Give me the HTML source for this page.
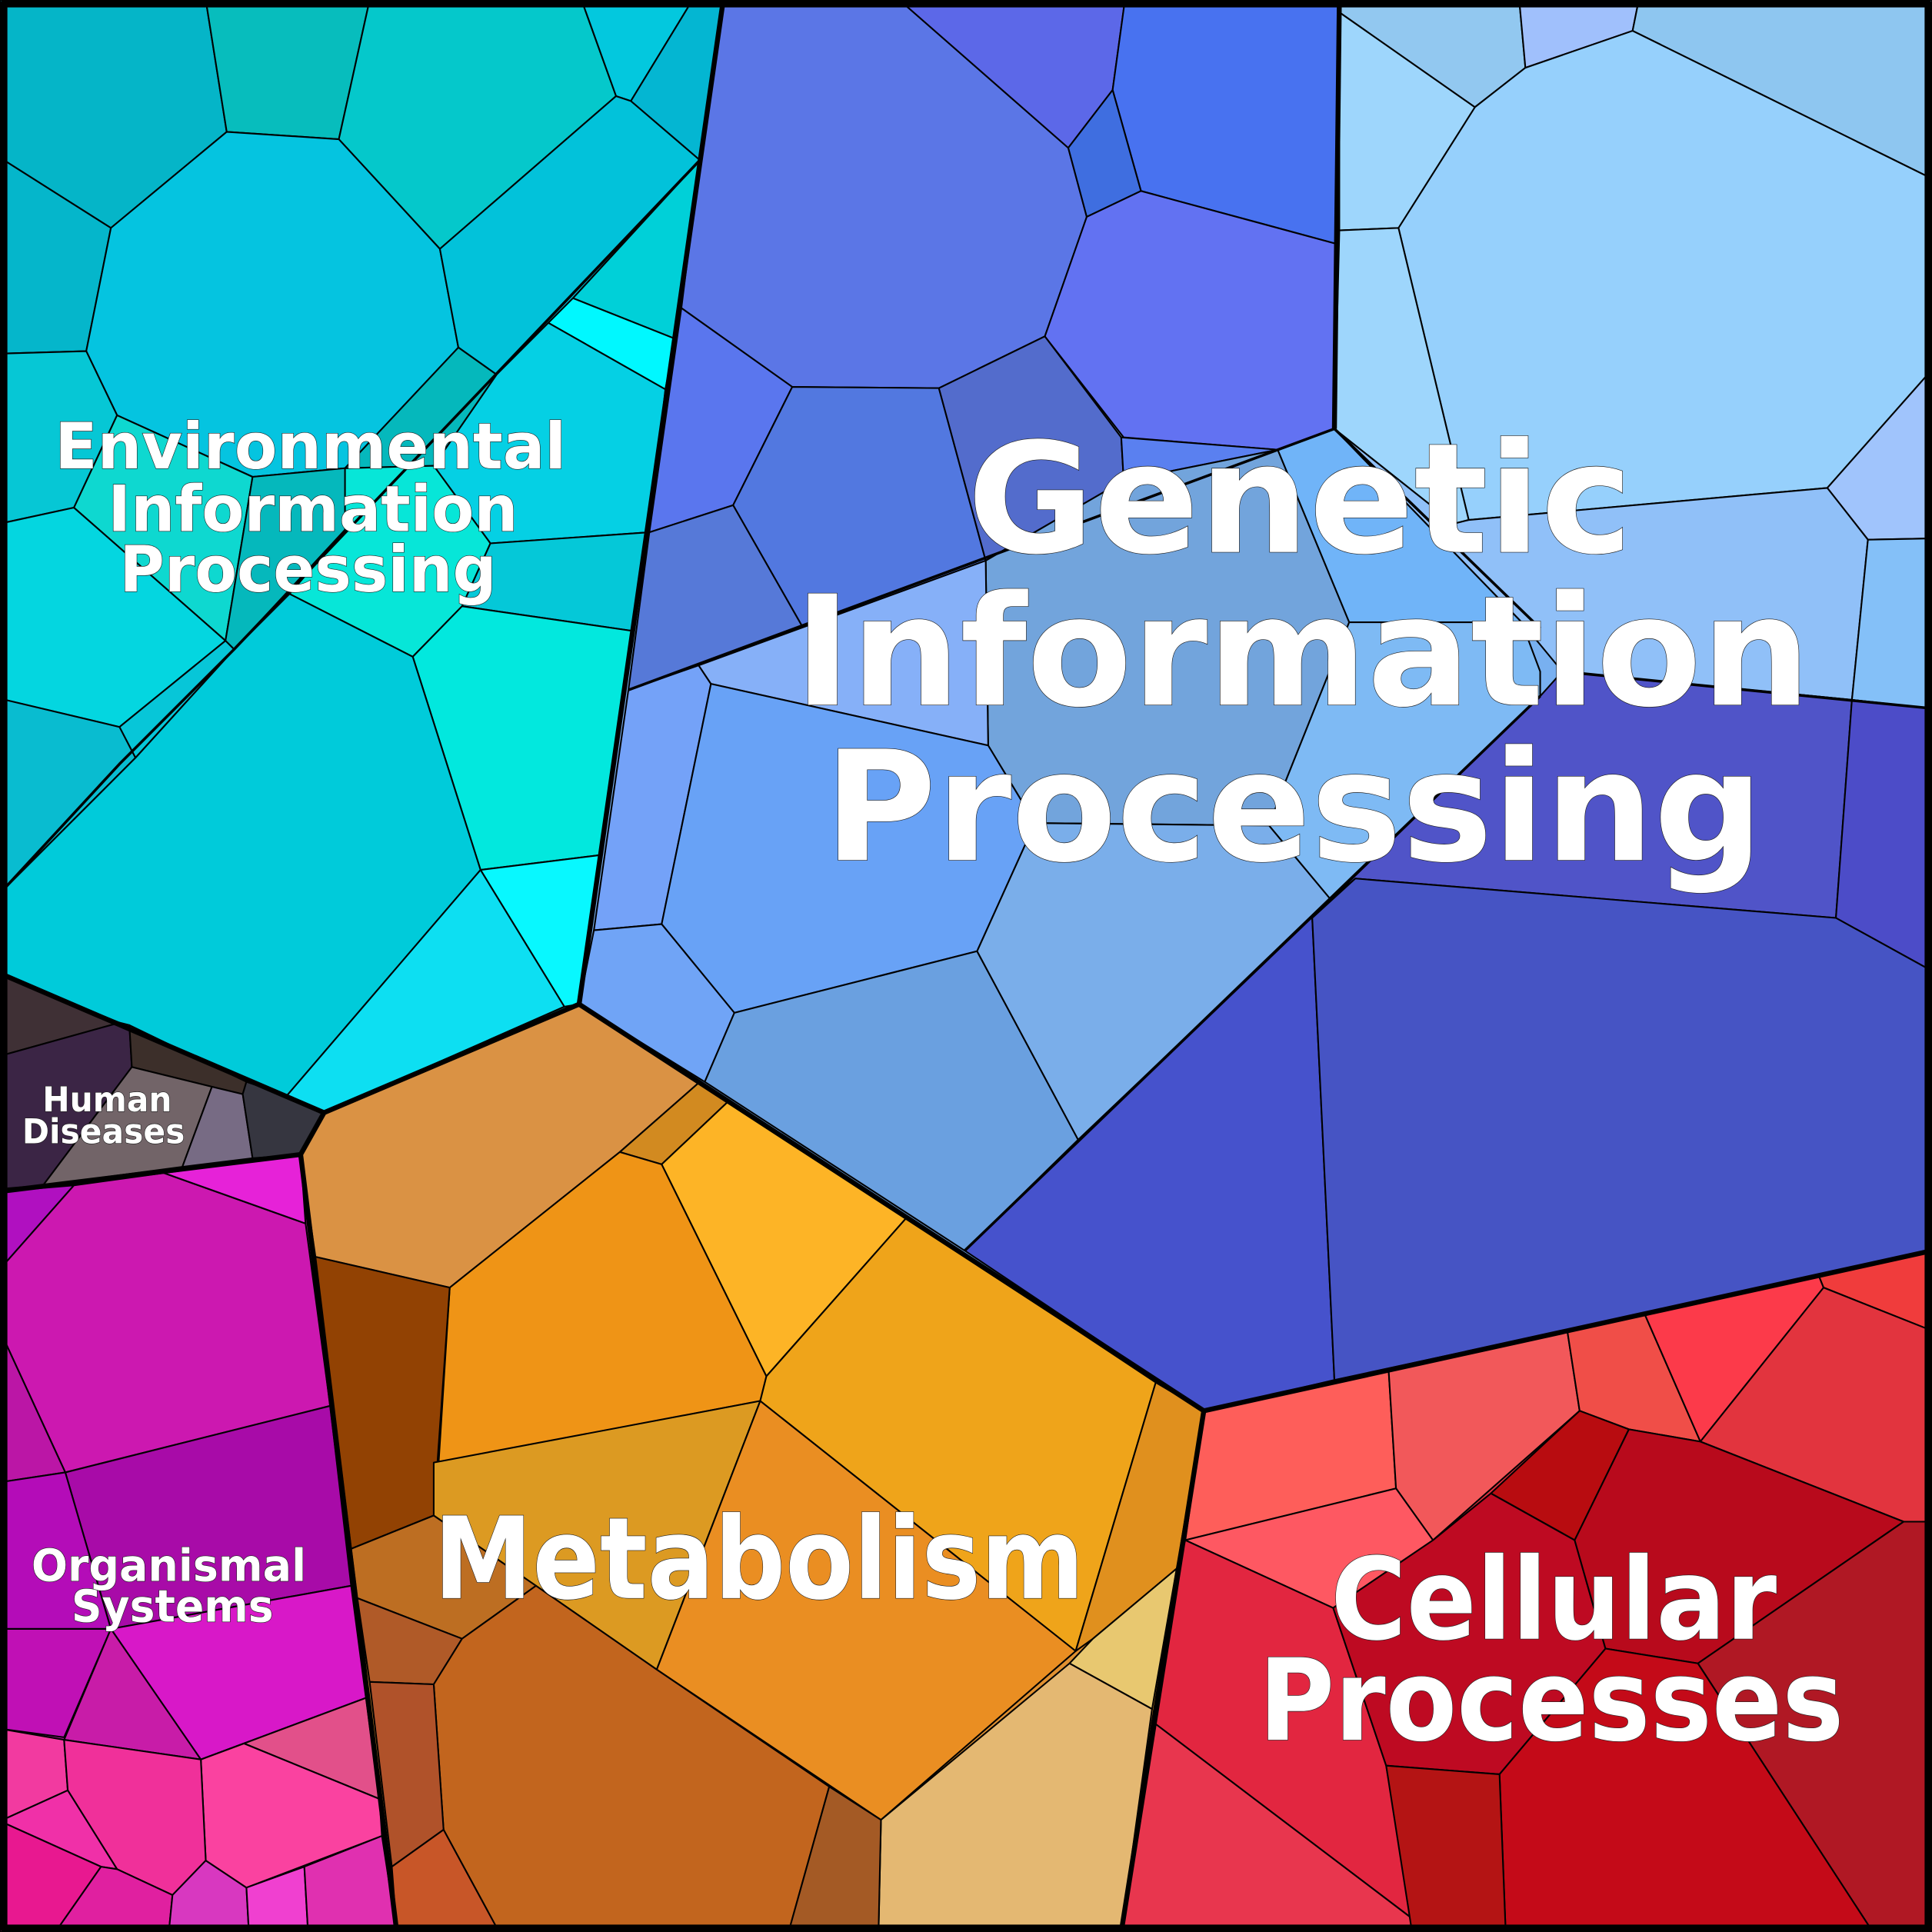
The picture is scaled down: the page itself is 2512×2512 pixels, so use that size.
<!DOCTYPE html>
<html><head><meta charset="utf-8"><style>
html,body{margin:0;padding:0;background:#fff;}
svg{display:block;}
.c polygon{stroke:#000;stroke-width:1.3;stroke-linejoin:round;}
.t{font-family:"DejaVu Sans","Liberation Sans",sans-serif;font-weight:bold;fill:#fff;stroke:#222;stroke-width:0.8;paint-order:stroke;text-anchor:middle;}
</style></head><body>
<svg width="2512" height="2512" viewBox="0 0 1568 1568" xmlns="http://www.w3.org/2000/svg">
<g>
<polygon fill="#04c8d8" points="0,0 587,0 470,815 263,903 0,790"/>
<polygon fill="#3b2a40" points="0,790 263,903 244,937 0,967"/>
<polygon fill="#cc18b0" points="0,967 244,937 322,1568 0,1568"/>
<polygon fill="#e09030" points="244,937 263,903 470,815 977,1145 910,1568 322,1568"/>
<polygon fill="#78b0f0" points="587,0 1568,0 1568,1015 977,1145 470,815"/>
<polygon fill="#e03040" points="977,1145 1568,1015 1568,1568 910,1568"/>
</g>
<g class="c">
<!-- Environmental -->
<polygon fill="#05b5c8" points="0,0 167,0 184,107 90,185 0,128"/>
<polygon fill="#07bdbd" points="167,0 300,0 275,113 184,107"/>
<polygon fill="#05c8cb" points="300,0 472,0 500,78 357,202 275,113"/>
<polygon fill="#03c8de" points="472,0 562,0 512,82 500,78"/>
<polygon fill="#04b6d2" points="562,0 587,0 568,130 512,82"/>
<polygon fill="#05b6cb" points="0,128 90,185 70,285 0,287"/>
<polygon fill="#05c4e0" points="184,107 275,113 357,202 372,282 280,380 205,387 95,337 70,285 90,185"/>
<polygon fill="#02c2da" points="500,78 512,82 568,130 465,242 403,304 372,282 357,202"/>
<polygon fill="#00d0d8" points="568,130 548,275 465,242"/>
<polygon fill="#00f8ff" points="465,242 548,275 540,316 445,262"/>
<polygon fill="#06c7d5" points="0,287 70,285 95,337 60,412 0,425"/>
<polygon fill="#0ed8d0" points="95,337 205,387 183,520 60,412"/>
<polygon fill="#05d0e4" points="403,304 445,262 540,316 527,432 398,441 352,378"/>
<polygon fill="#05b8bc" points="372,282 403,304 352,378 280,430 190,527 183,520 205,387 280,380"/>
<polygon fill="#04d6e0" points="0,425 60,412 183,520 97,590 0,567"/>
<polygon fill="#09bcd0" points="0,567 97,590 110,615 0,725"/>
<polygon fill="#07c6d8" points="97,590 183,520 190,527 110,615"/>
<polygon fill="#07e6d8" points="280,380 352,378 398,441 375,492 335,533 235,482 280,430"/>
<polygon fill="#05c8d8" points="398,441 527,432 513,512 375,492"/>
<polygon fill="#02e8de" points="375,492 513,512 487,694 390,706 335,533"/>
<polygon fill="#00cbda" points="0,725 110,615 190,527 235,482 335,533 390,706 233,889 0,790"/>
<polygon fill="#08f8ff" points="390,706 487,694 470,815 458,817"/>
<polygon fill="#0ddff2" points="233,889 390,706 458,817 263,903"/>
<!-- Human diseases -->
<polygon fill="#3f3035" points="0,790 97,830 0,857"/>
<polygon fill="#3b2545" points="0,857 97,830 105,832 107,866 35,962 0,965"/>
<polygon fill="#3c2f2a" points="105,832 200,878 197,888 172,882 107,866"/>
<polygon fill="#726468" points="107,866 172,882 148,947 35,962"/>
<polygon fill="#776b84" points="172,882 197,888 205,940 148,947"/>
<polygon fill="#363640" points="200,878 233,889 263,903 244,937 205,940 197,888"/>
<!-- Organismal -->
<polygon fill="#b010c0" points="0,967 60,962 0,1030"/>
<polygon fill="#cc18b0" points="60,962 133,952 248,993 268,1141 53,1195 0,1080 0,1030"/>
<polygon fill="#e622d8" points="133,952 244,937 248,993"/>
<polygon fill="#bb16a6" points="0,1080 53,1195 0,1203"/>
<polygon fill="#a80ba8" points="53,1195 268,1141 285,1287 90,1322"/>
<polygon fill="#b40cb8" points="0,1203 53,1195 90,1322 0,1322"/>
<polygon fill="#c010b5" points="0,1322 90,1322 52,1410 0,1403"/>
<polygon fill="#d818c8" points="90,1322 285,1287 297,1378 163,1428"/>
<polygon fill="#c81ca8" points="90,1322 163,1428 52,1412"/>
<polygon fill="#e2508a" points="163,1428 297,1378 308,1460 198,1415"/>
<polygon fill="#fa42a0" points="198,1415 308,1460 310,1490 200,1532 167,1510 163,1428"/>
<polygon fill="#f23aa0" points="0,1403 52,1412 55,1453 0,1478"/>
<polygon fill="#f0309a" points="52,1412 163,1428 167,1510 140,1538 95,1517 55,1453"/>
<polygon fill="#f030a8" points="0,1478 55,1453 95,1517 82,1515"/>
<polygon fill="#e81890" points="0,1478 82,1515 45,1568 0,1568"/>
<polygon fill="#e020a0" points="82,1515 95,1517 140,1538 137,1568 45,1568"/>
<polygon fill="#d838c0" points="140,1538 167,1510 200,1532 202,1568 137,1568"/>
<polygon fill="#f040d0" points="200,1532 247,1515 250,1568 202,1568"/>
<polygon fill="#e030b0" points="247,1515 310,1490 322,1568 250,1568"/>
<!-- Metabolism -->
<polygon fill="#da9244" points="263,903 470,815 568,878 503,935 365,1045 256,1020 244,937"/>
<polygon fill="#d28a20" points="568,878 592,893 537,945 503,935"/>
<polygon fill="#fdb426" points="592,893 736,988 622,1117 537,945"/>
<polygon fill="#ef9416" points="503,935 537,945 622,1117 617,1137 356,1187 365,1045"/>
<polygon fill="#924203" points="256,1020 365,1045 352,1230 285,1257"/>
<polygon fill="#efa41a" points="736,988 938,1122 873,1340 617,1137 622,1117"/>
<polygon fill="#dc9a22" points="352,1187 617,1137 533,1355 435,1287 352,1230"/>
<polygon fill="#ea8e22" points="617,1137 873,1340 715,1477 533,1355"/>
<polygon fill="#e0901e" points="938,1122 977,1145 955,1273 887,1330 873,1340"/>
<polygon fill="#e8c870" points="955,1273 935,1387 868,1350 887,1330"/>
<polygon fill="#e4b872" points="868,1350 935,1387 910,1568 713,1568 715,1477"/>
<polygon fill="#bd6e22" points="285,1257 352,1230 435,1287 375,1330 290,1297"/>
<polygon fill="#b05a28" points="290,1297 375,1330 352,1367 300,1365"/>
<polygon fill="#c2651e" points="435,1287 533,1355 673,1450 640,1568 405,1568 360,1485 352,1367 375,1330"/>
<polygon fill="#b0522a" points="300,1365 352,1367 360,1485 318,1515"/>
<polygon fill="#c85628" points="318,1515 360,1485 405,1568 322,1568"/>
<polygon fill="#a45a25" points="673,1450 715,1477 713,1568 640,1568"/>
<!-- Genetic -->
<polygon fill="#5b76e6" points="587,0 730,0 867,120 882,176 848,273 762,315 643,314 553,250 568,130"/>
<polygon fill="#5c68e8" points="730,0 913,0 903,73 867,120"/>
<polygon fill="#4872f0" points="913,0 1087,0 1085,198 926,155 903,73"/>
<polygon fill="#3f6ee0" points="867,120 903,73 926,155 882,176"/>
<polygon fill="#6272f2" points="882,176 926,155 1085,198 1083,348 1037,365 912,355 848,273"/>
<polygon fill="#5a76ee" points="553,250 643,314 595,410 527,432"/>
<polygon fill="#5278e0" points="643,314 762,315 800,455 652,510 595,410"/>
<polygon fill="#536ccc" points="762,315 848,273 910,355 912,390 800,455"/>
<polygon fill="#5679d8" points="527,432 595,410 652,510 510,560"/>
<polygon fill="#5a80f0" points="910,355 1037,365 912,390"/>
<polygon fill="#72a4dc" points="800,455 912,390 1037,365 1095,505 1043,635 1030,670 840,668 802,605"/>
<polygon fill="#74a2f8" points="510,560 567,540 577,555 537,750 482,755"/>
<polygon fill="#86b0f8" points="567,540 800,455 802,605 577,555"/>
<polygon fill="#68a2f6" points="577,555 802,605 840,668 793,772 596,822 537,750"/>
<polygon fill="#70a4f6" points="482,755 537,750 596,822 572,878 470,815"/>
<polygon fill="#6aa0e0" points="596,822 793,772 875,925 783,1015 572,878"/>
<polygon fill="#7aaeea" points="840,668 1030,670 1080,730 875,925 793,772"/>
<polygon fill="#70b4f8" points="1037,365 1083,348 1235,505 1095,505"/>
<polygon fill="#7ebaf4" points="1095,505 1235,505 1250,545 1250,565 1080,730 1030,670 1043,635"/>
<polygon fill="#92c8f0" points="1087,0 1233,0 1238,55 1197,87 1087,10"/>
<polygon fill="#a0c0fc" points="1233,0 1330,0 1325,25 1238,55"/>
<polygon fill="#8ec6f0" points="1330,0 1568,0 1568,145 1325,25"/>
<polygon fill="#96d0fc" points="1197,87 1238,55 1325,25 1568,145 1568,300 1483,396 1192,422 1135,185"/>
<polygon fill="#9ed6fc" points="1087,10 1197,87 1135,185 1087,187"/>
<polygon fill="#9ed6fc" points="1087,187 1135,185 1192,422 1180,425 1083,348"/>
<polygon fill="#a0c4fc" points="1568,300 1568,437 1516,438 1483,396"/>
<polygon fill="#90c0f8" points="1180,425 1192,422 1483,396 1516,438 1503,568 1268,545 1235,505 1083,348"/>
<polygon fill="#84c0f8" points="1516,438 1568,437 1568,575 1503,568"/>
<polygon fill="#5054c8" points="1250,565 1268,545 1503,568 1490,745 1100,713 1080,730"/>
<polygon fill="#4c4cc8" points="1503,568 1568,575 1568,788 1490,745"/>
<polygon fill="#4652cc" points="783,1015 1080,730 1065,745 1083,1120 977,1145"/>
<polygon fill="#4654c4" points="1065,745 1100,713 1490,745 1568,788 1568,1015 1083,1120"/>
<!-- Cellular -->
<polygon fill="#fe5e5a" points="977,1145 1127,1112 1133,1208 962,1250"/>
<polygon fill="#f2585a" points="1127,1112 1272,1080 1282,1145 1163,1250 1133,1208"/>
<polygon fill="#f04e48" points="1272,1080 1335,1067 1380,1170 1322,1160 1282,1145"/>
<polygon fill="#fc3a4a" points="1335,1067 1476,1035 1480,1045 1380,1170"/>
<polygon fill="#f03c3c" points="1476,1035 1568,1015 1568,1080 1480,1045"/>
<polygon fill="#e2343e" points="1480,1045 1568,1080 1568,1235 1545,1235 1380,1170"/>
<polygon fill="#fe5862" points="962,1250 1133,1208 1163,1250 1082,1305"/>
<polygon fill="#e22640" points="955,1273 962,1250 1082,1305 1125,1433 1146,1557 935,1397"/>
<polygon fill="#e8364e" points="935,1397 1146,1557 1146,1568 910,1568"/>
<polygon fill="#b80c10" points="1210,1212 1282,1145 1322,1160 1278,1250"/>
<polygon fill="#be0a22" points="1082,1305 1163,1250 1210,1212 1278,1250 1303,1338 1217,1440 1125,1433"/>
<polygon fill="#b80a1c" points="1278,1250 1322,1160 1380,1170 1545,1235 1378,1350 1303,1338"/>
<polygon fill="#b01824" points="1378,1350 1545,1235 1568,1235 1568,1568 1520,1568"/>
<polygon fill="#c40a18" points="1303,1338 1378,1350 1520,1568 1222,1568 1217,1440"/>
<polygon fill="#b41414" points="1125,1433 1217,1440 1222,1568 1146,1568"/>
</g>
<g fill="none" stroke="#000" stroke-linejoin="round">
<polyline stroke-width="2.2" points="510,560 1083,348 1250,510"/>
<polyline stroke-width="2.2" points="783,1015 1250,565"/>
<polyline stroke-width="2.2" points="1268,545 1568,575"/>
<polyline stroke-width="2.2" points="568,130 190,527 97,620 0,725"/>
<polyline stroke-width="4" points="587,0 470,815 263,903 0,790"/>
<polyline stroke-width="4" points="1087,0 1083,348"/>
<polyline stroke-width="4" points="470,815 977,1145 1568,1015"/>
<polyline stroke-width="4" points="977,1145 910,1568"/>
<polyline stroke-width="4" points="263,903 244,937 322,1568"/>
<polyline stroke-width="4" points="0,967 244,937"/>
<rect x="3" y="3" width="1562" height="1562" stroke-width="6"/>
</g>
<text class="t" x="1055" y="448" font-size="124" textLength="540" lengthAdjust="spacingAndGlyphs">Genetic</text>
<text class="t" x="1057" y="572" font-size="124" textLength="825" lengthAdjust="spacingAndGlyphs">Information</text>
<text class="t" x="1050" y="698" font-size="124" textLength="762" lengthAdjust="spacingAndGlyphs">Processing</text>
<text class="t" x="252" y="380" font-size="52" textLength="415" lengthAdjust="spacingAndGlyphs">Environmental</text>
<text class="t" x="254" y="431" font-size="52" textLength="333" lengthAdjust="spacingAndGlyphs">Information</text>
<text class="t" x="250" y="480" font-size="52" textLength="306" lengthAdjust="spacingAndGlyphs">Processing</text>
<text class="t" x="87" y="902" font-size="28" textLength="105" lengthAdjust="spacingAndGlyphs">Human</text>
<text class="t" x="84" y="928" font-size="28" textLength="132" lengthAdjust="spacingAndGlyphs">Diseases</text>
<text class="t" x="137" y="1283" font-size="36" textLength="223" lengthAdjust="spacingAndGlyphs">Organismal</text>
<text class="t" x="140" y="1316" font-size="36" textLength="164" lengthAdjust="spacingAndGlyphs">Systems</text>
<text class="t" x="616" y="1297" font-size="92" textLength="528" lengthAdjust="spacingAndGlyphs">Metabolism</text>
<text class="t" x="1261" y="1330" font-size="92" textLength="362" lengthAdjust="spacingAndGlyphs">Cellular</text>
<text class="t" x="1259" y="1412" font-size="92" textLength="475" lengthAdjust="spacingAndGlyphs">Processes</text>
</svg>
</body></html>
